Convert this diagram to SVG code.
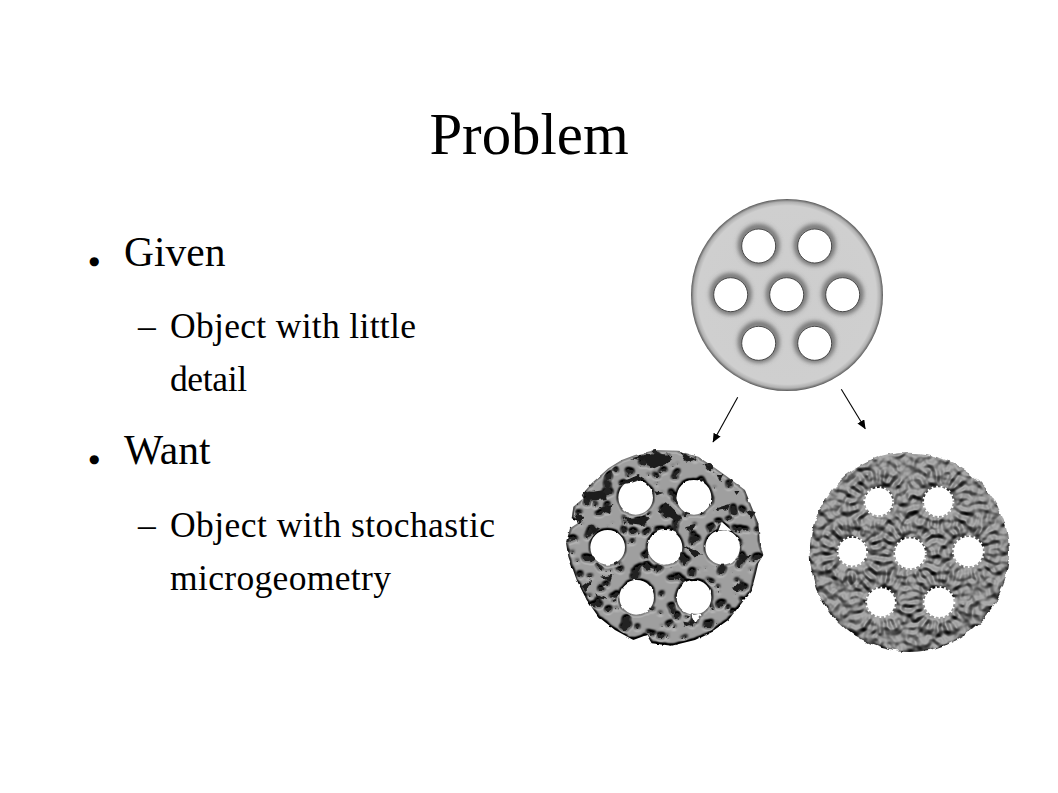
<svg xmlns="http://www.w3.org/2000/svg" xmlns:xlink="http://www.w3.org/1999/xlink" width="1058" height="793" viewBox="0 0 1058 793">
<style>
text{font-family:"Liberation Serif","Times New Roman",serif;fill:#000}
.t{font-size:58.8px}.a{font-size:41.5px}.b{font-size:35.5px}
.g{font-family:"DejaVu Sans",sans-serif;font-size:12px}
.h{fill:#fff;stroke:#3a3a3a;stroke-width:.9}
.sh{fill:none;stroke:#555;stroke-width:4.5;filter:url(#b3)}
.arrow{stroke:#000;stroke-width:1.1;fill:none;marker-end:url(#ah)}
.crack{fill:#1c1c1c;filter:url(#rough)}
</style>
<defs>
<marker id="ah" markerUnits="userSpaceOnUse" markerWidth="10" markerHeight="10" refX="8.5" refY="4" orient="auto"><path d="M0,0L9,4L0,8Z" fill="#000"/></marker>
<filter id="b3" x="-40%" y="-40%" width="180%" height="180%"><feGaussianBlur stdDeviation="2.4"/></filter>
<radialGradient id="rim" gradientUnits="userSpaceOnUse" cx="787" cy="295" r="96">
<stop offset="0" stop-color="#cdcdcd"/><stop offset=".93" stop-color="#cfcfcf"/><stop offset=".97" stop-color="#b0b0b0"/><stop offset=".99" stop-color="#787878"/><stop offset="1" stop-color="#555"/>
</radialGradient>
<clipPath id="topClip"><circle cx="787" cy="295" r="96"/></clipPath>
<filter id="rough" x="-20%" y="-20%" width="140%" height="140%"><feTurbulence type="fractalNoise" baseFrequency=".05" numOctaves="2" seed="4"/><feDisplacementMap in="SourceGraphic" scale="14" xChannelSelector="R" yChannelSelector="G"/><feGaussianBlur stdDeviation="1.2"/></filter>
<filter id="litL" filterUnits="userSpaceOnUse" x="0" y="0" width="700" height="660" color-interpolation-filters="sRGB">
<feTurbulence type="fractalNoise" baseFrequency=".035" numOctaves="3" seed="7" result="tb"/>
<feDisplacementMap in="SourceGraphic" in2="tb" scale="8" xChannelSelector="R" yChannelSelector="G" result="src"/>
<feColorMatrix in="src" type="matrix" values="0 0 0 0 0 0 0 0 0 0 0 0 0 0 0 1 0 0 0 0" result="h0"/>
<feColorMatrix in="tb" type="matrix" values="0 0 0 0 0 0 0 0 0 0 0 0 0 0 0 0 22 0 0 -14" result="n"/>
<feComposite in="h0" in2="n" operator="arithmetic" k2="1" k3="-.55" result="h1"/>
<feGaussianBlur in="h1" stdDeviation="5" result="h"/>
<feDiffuseLighting in="h" surfaceScale="34" diffuseConstant="1" lighting-color="#b4b4b4" result="l"><feDistantLight azimuth="270" elevation="62"/></feDiffuseLighting>
<feFlood flood-color="#222"/>
<feComposite in2="n" operator="in" result="dk"/>
<feMerge result="m"><feMergeNode in="l"/><feMergeNode in="dk"/></feMerge>
<feComposite in="m" in2="src" operator="in"/>
</filter>
<filter id="litR" filterUnits="userSpaceOnUse" x="0" y="0" width="700" height="660" color-interpolation-filters="sRGB">
<feColorMatrix in="SourceGraphic" type="matrix" values="0 0 0 0 0 0 0 0 0 0 0 0 0 0 0 1 0 0 0 0" result="h0"/>
<feGaussianBlur in="h0" stdDeviation="4" result="h"/>
<feTurbulence type="fractalNoise" baseFrequency=".045" numOctaves="2" seed="11"/>
<feColorMatrix type="matrix" values="0 0 0 0 0 0 0 0 0 0 0 0 0 0 0 2.2 0 0 0 -.6"/>
<feGaussianBlur stdDeviation="3.5" result="n"/>
<feComposite in="h" in2="n" operator="arithmetic" k2=".6" k3=".4" result="hh"/>
<feDiffuseLighting in="hh" surfaceScale="22" diffuseConstant="1" lighting-color="#acacac" result="l"><feDistantLight azimuth="270" elevation="60"/></feDiffuseLighting>
<feComposite in="l" in2="SourceAlpha" operator="in"/>
</filter>
<filter id="mblur" filterUnits="userSpaceOnUse" x="0" y="0" width="700" height="660"><feTurbulence type="fractalNoise" baseFrequency=".03" numOctaves="2" seed="3"/><feDisplacementMap in="SourceGraphic" scale="20" xChannelSelector="R" yChannelSelector="G"/><feGaussianBlur stdDeviation="1"/></filter>
<mask id="mR" maskUnits="userSpaceOnUse" x="0" y="0" width="700" height="660">
<g filter="url(#mblur)"><circle cx="328" cy="337" r="299" fill="#fff"/></g>
<g fill="#000" stroke="#000" stroke-width="10" stroke-dasharray="5 8">
<circle cx="236" cy="185" r="41"/><circle cx="415" cy="185" r="43"/><circle cx="157" cy="335" r="42"/><circle cx="330" cy="340" r="45"/><circle cx="505" cy="335" r="44"/><circle cx="243" cy="487" r="42"/><circle cx="417" cy="487" r="44"/>
</g>
</mask>
<g id="spk" fill="none"><circle r="76" stroke="#e8e8e8" stroke-width="40" stroke-dasharray="9 14"/></g>
</defs>

<rect width="1058" height="793" fill="#fff"/>
<text class="t" x="529" y="154" text-anchor="middle">Problem</text>

<g id="bullet-given"><text class="g" x="89" y="265">●</text><text class="a" x="124" y="266">Given</text></g>
<g id="sub-given"><text class="b" x="138" y="338">–</text><text class="b" x="170" y="338" textLength="246">Object with little</text><text class="b" x="170" y="391" textLength="77">detail</text></g>
<g id="bullet-want"><text class="g" x="89" y="463">●</text><text class="a" x="124" y="464">Want</text></g>
<g id="sub-want"><text class="b" x="138" y="537">–</text><text class="b" x="170" y="537" textLength="325">Object with stochastic</text><text class="b" x="170" y="590" textLength="221">microgeometry</text></g>

<g id="disc-smooth">
<circle cx="787" cy="295" r="96" fill="url(#rim)"/>
<g clip-path="url(#topClip)">
<g class="sh"><circle cx="758.7" cy="245" r="18"/><circle cx="814.7" cy="245" r="18"/><circle cx="730.7" cy="294" r="18"/><circle cx="786.7" cy="294" r="18"/><circle cx="842.7" cy="294" r="18"/><circle cx="758.7" cy="342" r="18"/><circle cx="814.7" cy="342" r="18"/></g>
</g>
<g class="h"><circle cx="758.7" cy="246" r="17"/><circle cx="814.7" cy="246" r="17"/><circle cx="730.7" cy="294.7" r="17"/><circle cx="786.7" cy="294.7" r="17"/><circle cx="842.7" cy="294.7" r="17"/><circle cx="758.7" cy="343.3" r="17"/><circle cx="814.7" cy="343.3" r="17"/></g>
</g>

<g id="connectors">
<path class="arrow" d="M737.7,397.3L713,442"/>
<path class="arrow" d="M841.3,389.3L865.3,428.7"/>
</g>

<g id="disc-cracked" transform="translate(555,440) scale(.33333)">
<g filter="url(#litL)">
<path fill="#aaa" fill-rule="evenodd" d="M240,45L300,30L370,32L430,50L475,80L510,105L570,150L590,200L610,250L615,310L625,345L610,370L603,400L590,450L560,490L520,540L470,575L420,600L350,617L290,610L275,585L235,600L180,570L130,530L95,480L65,420L40,350L33,310L45,265L75,245L50,235L55,200L85,175L80,165L110,130L160,85L200,60Z
M190,172a52,52 0 1,0 104,0a52,52 0 1,0 -104,0Z
M365,172a52,52 0 1,0 104,0a52,52 0 1,0 -104,0Z
M106,322a52,52 0 1,0 104,0a52,52 0 1,0 -104,0Z
M278,322a52,52 0 1,0 104,0a52,52 0 1,0 -104,0Z
M451,322a52,52 0 1,0 104,0a52,52 0 1,0 -104,0ZM500,245L530,272L490,272Z
M193,472a52,52 0 1,0 104,0a52,52 0 1,0 -104,0Z
M365,472a52,52 0 1,0 104,0a52,52 0 1,0 -104,0ZM405,520L440,522L420,550Z"/>
</g>
<g class="crack">
<path d="M85,160L148,150L152,178L100,182Z"/><path d="M228,55L290,40L352,45L340,68L298,88L268,62Z"/><path d="M375,35L422,58L395,68Z"/><path d="M445,72L476,82L465,95Z"/><path d="M188,132L250,105L268,116L225,130Z"/><path d="M298,154L326,158L305,166Z"/><path d="M308,212L335,190L382,235L360,242Z"/><path d="M205,232L285,235L262,255L225,250Z"/><path d="M482,205L525,192L520,206L490,212Z"/><path d="M570,210L602,216L590,236Z"/><path d="M390,262L422,254L410,276Z"/><path d="M385,315L445,345L420,350Z"/><path d="M78,440L112,415L92,456Z"/><path d="M135,410L172,405L165,425Z"/><path d="M130,205L172,195L165,222Z"/><path d="M55,222L90,232L70,250Z"/><path d="M100,255L135,265L115,285Z"/><path d="M485,105L505,105L495,125Z"/><path d="M535,150L555,150L545,165Z"/><path d="M555,345L590,345L565,370Z"/><path d="M530,440L575,430L550,455Z"/><path d="M385,545L415,550L390,560Z"/><path d="M120,460L160,480L130,475Z"/></g>
</g>

<g id="disc-bumpy" transform="translate(800,440) scale(.33333)">
<g filter="url(#litR)"><g mask="url(#mR)">
<circle cx="328" cy="337" r="325" fill="#808080"/>
<use xlink:href="#spk" href="#spk" x="236" y="185"/><use xlink:href="#spk" href="#spk" x="415" y="185"/><use xlink:href="#spk" href="#spk" x="157" y="335"/><use xlink:href="#spk" href="#spk" x="330" y="340"/><use xlink:href="#spk" href="#spk" x="505" y="335"/><use xlink:href="#spk" href="#spk" x="243" y="487"/><use xlink:href="#spk" href="#spk" x="417" y="487"/>
</g></g>
</g>
</svg>
